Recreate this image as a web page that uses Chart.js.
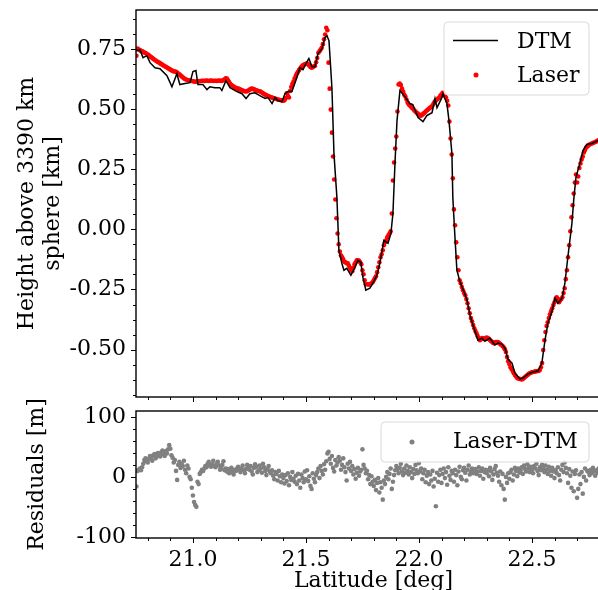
<!DOCTYPE html>
<html lang="en">
<head>
<meta charset="UTF-8">
<title>Laser vs DTM profile</title>
<script src="https://cdn.jsdelivr.net/npm/chart.js@4.4.1/dist/chart.umd.min.js"></script>
<style>
  * { margin: 0; padding: 0; box-sizing: border-box; }
  body { background: #fff; width: 598px; height: 590px; overflow: hidden; }
  #wrap { position: relative; width: 598px; height: 590px; overflow: hidden; background: #fff; }
  #wrap canvas { position: absolute; left: 0; }
  #profile { top: 0; }
  #resid { top: 400px; }
</style>
</head>
<body>
<div id="wrap">
  <canvas id="profile" width="640" height="410"></canvas>
  <canvas id="resid" width="640" height="195"></canvas>
</div>
<script>
// DTM profile (lat in deg, height in km)
const dtmLat = [20.745, 20.752, 20.765, 20.779, 20.796, 20.810, 20.832, 20.854, 20.885, 20.907,
  20.929, 20.942, 20.965, 20.987, 21.000, 21.013, 21.022, 21.044, 21.062, 21.075,
  21.097, 21.119, 21.128, 21.146, 21.164, 21.195, 21.217, 21.235, 21.252, 21.274,
  21.296, 21.319, 21.332, 21.350, 21.363, 21.376, 21.394, 21.407, 21.420, 21.438,
  21.460, 21.473, 21.487, 21.500, 21.513, 21.527, 21.540, 21.553, 21.571, 21.584,
  21.593, 21.602, 21.615, 21.624, 21.637, 21.646, 21.659, 21.668, 21.681, 21.699,
  21.717, 21.730, 21.743, 21.752, 21.765, 21.783, 21.796, 21.814, 21.827, 21.845,
  21.863, 21.876, 21.885, 21.894, 21.903, 21.916, 21.938, 21.960, 21.973, 21.996,
  22.018, 22.035, 22.058, 22.071, 22.080, 22.102, 22.106, 22.124, 22.133, 22.146,
  22.150, 22.159, 22.168, 22.181, 22.195, 22.212, 22.226, 22.239, 22.261, 22.279,
  22.292, 22.314, 22.336, 22.350, 22.367, 22.381, 22.394, 22.412, 22.425, 22.447,
  22.460, 22.482, 22.504, 22.527, 22.544, 22.558, 22.571, 22.588, 22.602, 22.615,
  22.633, 22.646, 22.659, 22.677, 22.686, 22.695, 22.712, 22.726, 22.743, 22.765,
  22.792, 22.823];
const dtmH = [0.745, 0.743, 0.747, 0.714, 0.722, 0.693, 0.672, 0.668, 0.639, 0.593,
  0.647, 0.602, 0.606, 0.610, 0.656, 0.660, 0.602, 0.602, 0.581, 0.593,
  0.589, 0.589, 0.577, 0.618, 0.589, 0.573, 0.564, 0.544, 0.564, 0.568,
  0.556, 0.544, 0.548, 0.523, 0.548, 0.535, 0.531, 0.564, 0.573, 0.573,
  0.631, 0.672, 0.664, 0.689, 0.710, 0.676, 0.676, 0.730, 0.751, 0.797,
  0.805, 0.784, 0.589, 0.315, 0.133, -0.087, -0.141, -0.170, -0.162, -0.191,
  -0.158, -0.129, -0.137, -0.199, -0.253, -0.245, -0.224, -0.191, -0.141, -0.046,
  -0.058, -0.017, 0.066, 0.274, 0.452, 0.577, 0.552, 0.523, 0.519, 0.465,
  0.448, 0.473, 0.485, 0.544, 0.506, 0.548, 0.564, 0.523, 0.452, 0.315,
  0.133, -0.025, -0.170, -0.216, -0.249, -0.290, -0.357, -0.398, -0.461, -0.452,
  -0.465, -0.452, -0.481, -0.473, -0.477, -0.494, -0.539, -0.556, -0.598, -0.622,
  -0.618, -0.602, -0.593, -0.589, -0.556, -0.461, -0.390, -0.344, -0.286, -0.307,
  -0.286, -0.224, -0.116, 0.025, 0.133, 0.216, 0.274, 0.328, 0.353, 0.357,
  0.369, 0.382];

// laser shots: first latitude and along-track spacing (deg)
const shotLat0 = 20.75;
const shotStep = 0.005;
// laser heights (km), one per shot
const laserH = [
  0.722, 0.752, 0.748, 0.745, 0.742, 0.740, 0.738, 0.735, 0.733, 0.730,
  0.727, 0.724, 0.720, 0.716, 0.712, 0.709, 0.705, 0.702, 0.699, 0.696,
  0.694, 0.690, 0.687, 0.684, 0.681, 0.678, 0.676, 0.673, 0.670, 0.668,
  0.664, 0.661, 0.659, 0.657, 0.656, 0.655, 0.652, 0.648, 0.645, 0.641,
  0.636, 0.632, 0.628, 0.625, 0.623, 0.621, 0.620, 0.619, 0.618, 0.617,
  0.616, 0.615, 0.614, 0.614, 0.615, 0.616, 0.617, 0.617, 0.618, 0.618,
  0.617, 0.618, 0.619, 0.618, 0.617, 0.618, 0.619, 0.618, 0.617, 0.618,
  0.618, 0.617, 0.618, 0.619, 0.618, 0.617, 0.619, 0.620, 0.624, 0.628,
  0.627, 0.620, 0.612, 0.605, 0.600, 0.597, 0.594, 0.591, 0.588, 0.586,
  0.585, 0.583, 0.581, 0.579, 0.577, 0.575, 0.574, 0.573, 0.574, 0.577,
  0.580, 0.583, 0.585, 0.584, 0.582, 0.580, 0.578, 0.576, 0.575, 0.574,
  0.572, 0.569, 0.566, 0.563, 0.560, 0.557, 0.555, 0.553, 0.551, 0.549,
  0.548, 0.546, 0.545, 0.543, 0.542, 0.540, 0.539, 0.538, 0.537, 0.536,
  0.535, 0.537, 0.545, 0.566, 0.556, 0.548, 0.575, 0.592, 0.604, 0.615,
  0.627, 0.638, 0.648, 0.655, 0.663, 0.670, 0.676, 0.681, 0.684, 0.686,
  0.688, 0.689, 0.686, 0.680, 0.675, 0.672, 0.674, 0.678, 0.680, 0.695,
  0.712, 0.734, 0.740, 0.748, 0.755, 0.770, 0.790, 0.810, 0.838, 0.828,
  0.693, 0.585, 0.498, 0.402, 0.303, 0.207, 0.124, 0.046, -0.017, -0.062,
  -0.092, -0.108, -0.116, -0.125, -0.135, -0.137, -0.141, -0.141, -0.150, -0.160,
  -0.170, -0.174, -0.160, -0.145, -0.137, -0.129, -0.129, -0.131, -0.137, -0.145,
  -0.170, -0.187, -0.212, -0.228, -0.228, -0.228, -0.230, -0.228, -0.224, -0.220,
  -0.212, -0.203, -0.195, -0.178, -0.158, -0.137, -0.116, -0.104, -0.087, -0.066,
  -0.054, -0.046, -0.033, -0.025, -0.017, -0.008, 0.066, 0.203, 0.278, 0.336,
  0.386, 0.490, 0.602, 0.606, 0.600, 0.585, 0.573, 0.560, 0.552, 0.540,
  0.527, 0.519, 0.515, 0.510, 0.505, 0.500, 0.494, 0.490, 0.485, 0.481,
  0.477, 0.473, 0.473, 0.477, 0.481, 0.485, 0.490, 0.494, 0.498, 0.502,
  0.506, 0.510, 0.515, 0.523, 0.531, 0.536, 0.540, 0.544, 0.548, 0.556,
  0.560, 0.568, 0.564, 0.556, 0.548, 0.535, 0.515, 0.448, 0.378, 0.311,
  0.212, 0.083, 0.017, -0.054, -0.116, -0.170, -0.212, -0.224, -0.240, -0.253,
  -0.265, -0.274, -0.290, -0.307, -0.328, -0.349, -0.369, -0.382, -0.398, -0.411,
  -0.423, -0.432, -0.444, -0.452, -0.461, -0.456, -0.452, -0.456, -0.454, -0.452,
  -0.450, -0.452, -0.456, -0.461, -0.465, -0.469, -0.473, -0.473, -0.469, -0.469,
  -0.469, -0.473, -0.477, -0.481, -0.485, -0.490, -0.498, -0.510, -0.531, -0.548,
  -0.560, -0.573, -0.581, -0.589, -0.598, -0.606, -0.612, -0.618, -0.620, -0.622,
  -0.622, -0.624, -0.622, -0.618, -0.614, -0.610, -0.606, -0.602, -0.598, -0.596,
  -0.594, -0.593, -0.592, -0.591, -0.590, -0.589, -0.589, -0.585, -0.573, -0.556,
  -0.502, -0.461, -0.427, -0.402, -0.386, -0.369, -0.353, -0.340, -0.328, -0.315,
  -0.303, -0.290, -0.282, -0.290, -0.303, -0.295, -0.290, -0.282, -0.265, -0.245,
  -0.207, -0.170, -0.116, -0.066, -0.008, 0.050, 0.100, 0.149, 0.195, 0.228,
  0.195, 0.220, 0.255, 0.274, 0.290, 0.303, 0.320, 0.330, 0.340, 0.344,
  0.349, 0.353, 0.355, 0.357, 0.359, 0.361, 0.363, 0.365, 0.368, 0.370, 0.372];
// Laser-DTM residuals (m), one per shot
const residuals = [
  -16, 10, 12, 14, 11, 16, 22, 28, 31, 26,
  24, 30, 35, 33, 27, 36, 38, 31, 34, 40,
  37, 34, 41, 44, 38, 35, 43, 39, 46, 53,
  47, 36, 32, 24, 28, 10, -5, 20, 25, 15,
  22, 18, 27, 12, 6, 19, 14, 0, -4, -18,
  -31, -42, -47, -50, -8, -12, 5, 8, 12, 10,
  14, 18, 16, 22, 25, 20, 17, 21, 27, 18,
  16, 22, 25, 19, 12, 15, 20, 26, 11, 14,
  9, 13, 6, 11, 15, 8, 4, 12, 10, 14,
  17, 12, 8, 14, 19, 11, 6, 13, 20, 16,
  12, 18, 9, 4, 15, 21, 17, 8, 11, 19,
  14, 7, 22, 16, 10, 3, 13, 18, 9, 6,
  11, 2, -4, 8, 5, -6, 10, 1, -9, 4,
  -2, -11, 3, -7, 6, -14, 0, -5, 8, -3,
  -8, 2, -12, 5, -6, -18, 4, -2, -9, 9,
  -4, 11, -7, 1, -15, -20, 6, -3, -9, 3,
  8, 14, -2, 18, 10, 4, 21, 12, 26, 39,
  42, 30, 22, 35, 15, 9, 28, 19, 24, 33,
  27, 12, 20, 31, 16, 8, -6, 22, 14, 25,
  10, 18, 4, 13, -3, 7, 15, 2, 9, 12,
  46, 20, 14, 6, 10, -4, 3, -12, 1, -8,
  -15, -5, -22, -10, -2, -26, -9, -18, -38, -6,
  -12, 0, 8, -4, 5, 14, -20, -8, 3, 11,
  18, 12, 6, 15, 22, 9, 3, 14, 7, 19,
  10, 4, 16, 8, -2, 13, 5, 20, 11, 6,
  23, 9, 14, -4, 6, 12, -9, 2, 8, -12,
  4, -6, 10, -16, -3, -49, 7, -8, 3, 12,
  -10, 5, 14, -2, 8, -13, 16, 2, -5, 10,
  6, -8, 12, 3, -14, 9, 17, 0, -4, 11,
  15, 7, -6, 12, 19, 4, 9, 14, 6, 11,
  13, 5, 9, 16, 2, 10, 14, -3, 8, 12,
  6, 11, 1, 15, 9, -5, 4, 13, 18, 7,
  2, -8, 9, -14, 5, -20, -38, 0, -10, 6,
  -3, 8, 12, -6, 4, 15, 10, 1, 14, 7,
  11, 16, 5, 19, 13, 9, 21, 15, 8, 17,
  12, 6, 18, 14, 22, 10, 3, 16, 11, 20,
  14, 8, 19, 12, 5, 17, 10, 2, 15, 9,
  -2, 11, 6, 16, 3, -6, 12, 20, 8, 24,
  15, 6, -10, 13, 2, -18, 9, -24, 5, 11,
  -35, -20, 4, -12, 8, -28, 0, 14, -6, 10,
  8, 3, 12, 6, 15, 9, 2, 11, 7, 14, 10];

// tick labels
const latTicks = [21.0, 21.5, 22.0, 22.5];
const heightTicks = [-0.5, -0.25, 0, 0.25, 0.5, 0.75];
const residTicks = [-100, 0, 100];

const shotLat = laserH.map((h, i) => +(shotLat0 + i * shotStep).toFixed(3));

const FONT = { family: 'DejaVu Serif', size: 22 };
Chart.defaults.font.family = 'DejaVu Serif';
Chart.defaults.color = '#000';

// spines + matplotlib-like major/minor ticks
const frame = {
  id: 'frame',
  afterDraw(chart, args, opts) {
    const { ctx, chartArea: a, scales: { x, y } } = chart;
    ctx.save();
    ctx.strokeStyle = '#000';
    ctx.lineWidth = 1;
    ctx.beginPath();
    for (let k = Math.ceil(x.min / opts.xMinor - 1e-9); k * opts.xMinor <= x.max; k++) {
      const px = Math.round(x.getPixelForValue(k * opts.xMinor)) + 0.5;
      const len = k % opts.xRatio === 0 ? 5 : 3;
      ctx.moveTo(px, a.bottom);
      ctx.lineTo(px, a.bottom + len);
    }
    for (let k = Math.ceil(y.min / opts.yMinor - 1e-9); k * opts.yMinor <= y.max; k++) {
      const py = Math.round(y.getPixelForValue(k * opts.yMinor)) + 0.5;
      const len = k % opts.yRatio === 0 ? 5 : 3;
      ctx.moveTo(a.left, py);
      ctx.lineTo(a.left - len, py);
    }
    ctx.stroke();
    ctx.lineWidth = 1.4;
    ctx.strokeRect(a.left, a.top, a.right - a.left, a.bottom - a.top);
    ctx.restore();
  }
};

// legend drawn inside the axes, like matplotlib's
const boxLegend = {
  id: 'boxLegend',
  afterDraw(chart, args, opts) {
    const ctx = chart.ctx;
    const [bx, by, bw, bh] = opts.box;
    ctx.save();
    ctx.beginPath();
    ctx.roundRect(bx, by, bw, bh, 4);
    ctx.fillStyle = 'rgba(255,255,255,0.8)';
    ctx.fill();
    ctx.strokeStyle = '#d9d9d9';
    ctx.lineWidth = 1;
    ctx.stroke();
    ctx.font = '22px "DejaVu Serif"';
    ctx.textBaseline = 'alphabetic';
    opts.items.forEach(it => {
      const ds = chart.data.datasets[it.index];
      if (it.line) {
        ctx.strokeStyle = ds.borderColor;
        ctx.lineWidth = ds.borderWidth;
        ctx.beginPath();
        ctx.moveTo(it.mark[0], it.mark[2]);
        ctx.lineTo(it.mark[1], it.mark[2]);
        ctx.stroke();
      } else {
        ctx.fillStyle = ds.backgroundColor;
        ctx.beginPath();
        ctx.arc(it.mark[0], it.mark[1], 2.5, 0, Math.PI * 2);
        ctx.fill();
      }
      ctx.fillStyle = '#000';
      ctx.fillText(ds.label, it.text[0], it.text[1]);
    });
    ctx.restore();
  }
};

const latMin = 20.748, latMax = 22.85;
const setTicks = list => scale => { scale.ticks = list.map(v => ({ value: v })); };
const noGrid = { display: false, drawTicks: false };
// fixed axis boxes, without the label overhang padding Chart.js adds
const fixWidth = w => s => { s.width = w; s.paddingTop = 0; s.paddingBottom = 0; };
const fixHeight = h => s => { s.height = h; s.paddingLeft = 0; s.paddingRight = 0; };

new Chart(document.getElementById('profile'), {
  type: 'scatter',
  data: {
    datasets: [
      {
        label: 'DTM',
        data: dtmLat.map((v, i) => ({ x: v, y: dtmH[i] })),
        showLine: true,
        borderColor: '#000000',
        borderWidth: 1.5,
        pointRadius: 0,
        pointHoverRadius: 0,
        order: 0
      },
      {
        label: 'Laser',
        data: laserH.map((h, i) => ({ x: shotLat[i], y: h })),
        backgroundColor: '#ff0000',
        borderWidth: 0,
        pointRadius: 2.3,
        pointHoverRadius: 2.3,
        order: 1
      }
    ]
  },
  options: {
    responsive: false,
    animation: false,
    devicePixelRatio: 1,
    layout: { padding: { top: 10, right: 29, left: 0, bottom: 0 } },
    plugins: {
      legend: { display: false },
      tooltip: { enabled: false },
      frame: { xMinor: 0.1, xRatio: 5, yMinor: 0.0625, yRatio: 4 },
      boxLegend: {
        box: [444, 22, 145, 73],
        items: [
          { index: 0, line: true, mark: [453, 498, 40.5], text: [517, 48] },
          { index: 1, mark: [476, 75], text: [517, 82] }
        ]
      }
    },
    scales: {
      x: {
        min: latMin, max: latMax,
        grid: noGrid, border: { display: false },
        ticks: { display: false },
        afterBuildTicks: setTicks(latTicks),
        afterFit: fixHeight(13)
      },
      y: {
        min: -0.697, max: 0.912,
        grid: noGrid, border: { display: false },
        ticks: { padding: 10, font: FONT, color: '#000', callback: v => v.toFixed(2) },
        afterBuildTicks: setTicks(heightTicks),
        title: { display: true, text: ['Height above 3390 km', 'sphere [km]'], font: FONT, color: '#000', padding: { top: 14, bottom: 0 } },
        afterFit: fixWidth(136)
      }
    }
  },
  plugins: [frame, boxLegend]
});

new Chart(document.getElementById('resid'), {
  type: 'scatter',
  data: {
    datasets: [{
      label: 'Laser-DTM',
      data: residuals.map((r, i) => ({ x: shotLat[i], y: r })),
      backgroundColor: '#808080',
      borderWidth: 0,
      pointRadius: 2.3,
      pointHoverRadius: 2.3
    }]
  },
  options: {
    responsive: false,
    animation: false,
    devicePixelRatio: 1,
    layout: { padding: { top: 11, right: 29, left: 0, bottom: 0 } },
    plugins: {
      legend: { display: false },
      tooltip: { enabled: false },
      frame: { xMinor: 0.1, xRatio: 5, yMinor: 20, yRatio: 5 },
      boxLegend: {
        box: [381, 22, 208, 40],
        items: [{ index: 0, mark: [412, 42], text: [453, 48] }]
      }
    },
    scales: {
      x: {
        min: latMin, max: latMax,
        grid: noGrid, border: { display: false },
        ticks: { padding: 9, font: FONT, color: '#000', maxRotation: 0, autoSkip: false, callback: v => v.toFixed(1) },
        afterBuildTicks: setTicks(latTicks),
        title: { display: true, text: 'Latitude [deg]', font: FONT, color: '#000', padding: { top: 0, bottom: 1 } },
        afterFit: fixHeight(57)
      },
      y: {
        min: -102, max: 110,
        grid: noGrid, border: { display: false },
        ticks: { padding: 10, font: FONT, color: '#000', callback: v => String(Math.round(v)) },
        afterBuildTicks: setTicks(residTicks),
        title: { display: true, text: 'Residuals [m]', font: FONT, color: '#000', padding: { top: 24, bottom: 0 } },
        afterFit: fixWidth(136)
      }
    }
  },
  plugins: [frame, boxLegend]
});
</script>
</body>
</html>
